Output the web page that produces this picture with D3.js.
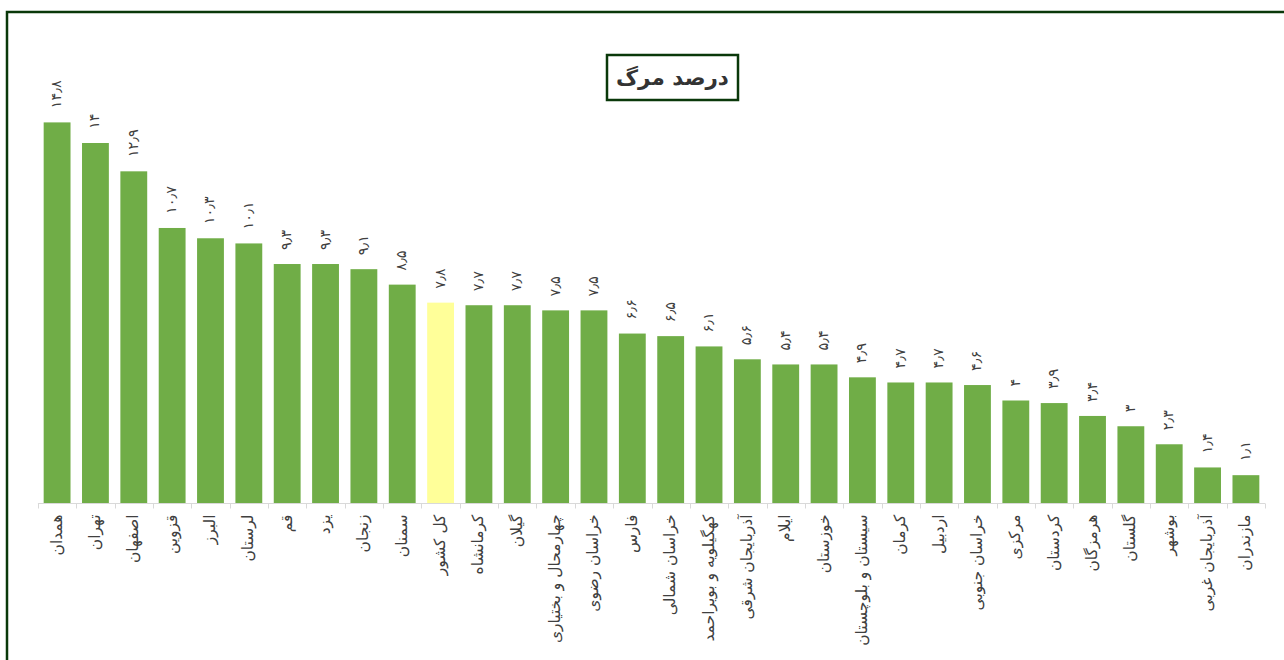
<!DOCTYPE html>
<html>
<head>
<meta charset="utf-8">
<script src="https://cdn.jsdelivr.net/npm/d3@7"></script>
<style>
  html, body { margin: 0; padding: 0; background: #ffffff; }
  svg { display: block; }
</style>
</head>
<body>
<svg id="chart" width="1284" height="660"></svg>
<script>
const title = "درصد مرگ";
const categories = [
  "همدان", "تهران", "اصفهان", "قزوین", "البرز", "لرستان", "قم", "یزد",
  "زنجان", "سمنان", "کل کشور", "کرمانشاه", "گیلان", "چهارمحال و بختیاری",
  "خراسان رضوی", "فارس", "خراسان شمالی", "کهگیلویه و بویراحمد",
  "آذربایجان شرقی", "ایلام", "خوزستان", "سیستان و بلوچستان", "کرمان",
  "اردبیل", "خراسان جنوبی", "مرکزی", "کردستان", "هرمزگان", "گلستان",
  "بوشهر", "آذربایجان غربی", "مازندران"
];
const values = [
  14.8, 14, 12.9, 10.7, 10.3, 10.1, 9.3, 9.3,
  9.1, 8.5, 7.8, 7.7, 7.7, 7.5,
  7.5, 6.6, 6.5, 6.1,
  5.6, 5.4, 5.4, 4.9, 4.7,
  4.7, 4.6, 4, 3.9, 3.4, 3,
  2.3, 1.4, 1.1
];
const highlight = ["کل کشور"];
const yMax = 16;

const data = categories.map((c, i) => ({ cat: c, val: values[i] }));
const faDigits = "۰۱۲۳۴۵۶۷۸۹";
const toFa = v => String(v).replace(/[0-9]/g, d => faDigits[+d]).replace(".", "٫");

const svg = d3.select("#chart");
const font = "'DejaVu Sans', sans-serif";

// outer frame (extends beyond the view)
svg.append("rect")
  .attr("x", 7).attr("y", 12)
  .attr("width", 1400).attr("height", 800)
  .attr("fill", "none")
  .attr("stroke", "#0a380a")
  .attr("stroke-width", 2.5);

const baseY = 503.5;
const x = d3.scaleBand().domain(categories).range([36, 1267]).paddingInner(0.3).paddingOuter(0.2);
const y = d3.scaleLinear().domain([0, yMax]).range([baseY, baseY - yMax * 25.75]);

// bars
svg.append("g").selectAll("rect").data(data).join("rect")
  .attr("x", d => x(d.cat))
  .attr("y", d => y(d.val))
  .attr("width", x.bandwidth())
  .attr("height", d => y(0) - y(d.val))
  .attr("fill", d => highlight.includes(d.cat) ? "#FFFF99" : "#70AD47");

// axis line & ticks
const step = x.step();
const axisG = svg.append("g");
axisG.append("line")
  .attr("x1", x(categories[0]) + x.bandwidth() / 2 - step / 2)
  .attr("x2", x(categories[categories.length - 1]) + x.bandwidth() / 2 + step / 2)
  .attr("y1", baseY).attr("y2", baseY)
  .attr("stroke", "#d9d9d9").attr("stroke-width", 1);
const tickXs = categories.map(c => x(c) + x.bandwidth() / 2 - step / 2)
  .concat([x(categories[categories.length - 1]) + x.bandwidth() / 2 + step / 2]);
axisG.selectAll("line.tick").data(tickXs).join("line")
  .attr("class", "tick")
  .attr("x1", d => Math.round(d) + 0.5).attr("x2", d => Math.round(d) + 0.5)
  .attr("y1", baseY).attr("y2", baseY + 5)
  .attr("stroke", "#d9d9d9").attr("stroke-width", 1);

// category labels
svg.append("g").selectAll("text").data(data).join("text")
  .attr("transform", d => `translate(${x(d.cat) + x.bandwidth() / 2},${baseY + 11}) rotate(-90)`)
  .attr("text-anchor", "end")
  .attr("dominant-baseline", "middle")
  .attr("font-family", font)
  .attr("font-size", 15.5)
  .attr("fill", "#404040")
  .text(d => d.cat);

// value labels
svg.append("g").selectAll("text").data(data).join("text")
  .attr("transform", d => `translate(${x(d.cat) + x.bandwidth() / 2},${y(d.val) - 14}) rotate(-90)`)
  .attr("text-anchor", "start")
  .attr("dominant-baseline", "middle")
  .attr("font-family", font)
  .attr("font-size", 14.5)
  .attr("fill", "#404040")
  .text(d => toFa(d.val));

// title box
const tg = svg.append("g");
tg.append("rect")
  .attr("x", 607).attr("y", 55)
  .attr("width", 131).attr("height", 45)
  .attr("fill", "#ffffff")
  .attr("stroke", "#0a380a")
  .attr("stroke-width", 2.5);
tg.append("text")
  .attr("x", 672.5).attr("y", 79)
  .attr("text-anchor", "middle")
  .attr("dominant-baseline", "middle")
  .attr("font-family", font)
  .attr("font-size", 21.5)
  .attr("font-weight", "bold")
  .attr("fill", "#333333")
  .text(title);
</script>
</body>
</html>
